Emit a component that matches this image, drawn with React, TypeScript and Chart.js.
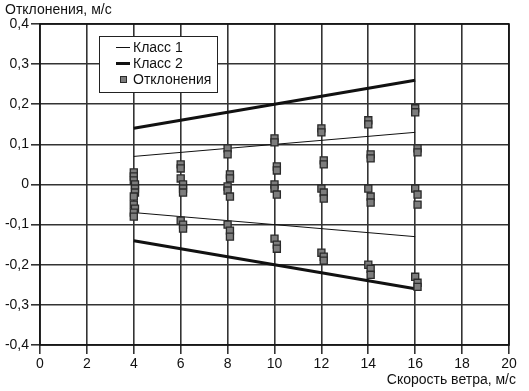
import React, { useEffect, useRef } from "react";
import { Chart, registerables } from "chart.js";

Chart.register(...registerables);

const xTicksMin = 0;
const xTicksMax = 20;
const yTicksMin = -0.4;
const yTicksMax = 0.4;

const class1Upper = [{ x: 4, y: 0.07 }, { x: 16, y: 0.13 }];
const class1Lower = [{ x: 4, y: -0.07 }, { x: 16, y: -0.13 }];
const class2Upper = [{ x: 4, y: 0.14 }, { x: 16, y: 0.26 }];
const class2Lower = [{ x: 4, y: -0.14 }, { x: 16, y: -0.26 }];

const devX4 = [4, 4, 4, 4.05, 4.05, 4.05, 4, 4, 4.05, 4, 4];
const devY4 = [0.03, 0.02, 0.01, 0.0, -0.01, -0.02, -0.03, -0.05, -0.06, -0.07, -0.08];
const devX6 = [6, 6, 6, 6.1, 6.1, 6.1, 6, 6.1, 6.1];
const devY6 = [0.05, 0.04, 0.015, 0.0, -0.01, -0.02, -0.09, -0.1, -0.11];
const devX8 = [8, 8, 8.1, 8.1, 8, 8, 8.1, 8, 8.1, 8.1];
const devY8 = [0.09, 0.075, 0.025, 0.015, -0.005, -0.015, -0.03, -0.1, -0.115, -0.13];
const devX10 = [10, 10, 10.1, 10.1, 10, 10, 10.1, 10, 10.1, 10.1];
const devY10 = [0.115, 0.105, 0.045, 0.035, 0.0, -0.01, -0.025, -0.135, -0.15, -0.16];
const devX12 = [12, 12, 12.1, 12.1, 12, 12.1, 12.1, 12, 12.1, 12.1];
const devY12 = [0.14, 0.13, 0.06, 0.05, -0.01, -0.02, -0.035, -0.17, -0.18, -0.19];
const devX14 = [14, 14, 14.1, 14.1, 14, 14.1, 14.1, 14, 14.1, 14.1];
const devY14 = [0.16, 0.15, 0.075, 0.065, -0.01, -0.03, -0.045, -0.2, -0.21, -0.225];
const devX16 = [16, 16, 16.1, 16.1, 16, 16.1, 16.1, 16, 16.1, 16.1];
const devY16 = [0.19, 0.18, 0.09, 0.08, -0.01, -0.025, -0.05, -0.23, -0.245, -0.255];

const legendLabels = ["Класс 1", "Класс 2", "Отклонения"];
const yTitle = "Отклонения, м/с";
const xTitle = "Скорость ветра, м/с";

const FONT = "'Liberation Sans', Arial, sans-serif";
const GRID = "#333";

function zip(xs: number[], ys: number[]) {
  return xs.map((x, i) => ({ x, y: ys[i] }));
}

const deviations = [
  ...zip(devX4, devY4),
  ...zip(devX6, devY6),
  ...zip(devX8, devY8),
  ...zip(devX10, devY10),
  ...zip(devX12, devY12),
  ...zip(devX14, devY14),
  ...zip(devX16, devY16),
];

export default function App() {
  const ref = useRef<HTMLCanvasElement>(null);

  useEffect(() => {
    document.body.style.margin = "0";
    const canvas = ref.current!;
    const decor = {
      id: "decor",
      afterDraw(chart: any) {
        const ctx = chart.ctx;
        const area = chart.chartArea;
        ctx.save();
        ctx.strokeStyle = "#111";
        ctx.lineWidth = 1.6;
        ctx.strokeRect(area.left, area.top, area.right - area.left, area.bottom - area.top);
        ctx.fillStyle = "#111";
        ctx.font = `14px ${FONT}`;
        ctx.textBaseline = "middle";
        ctx.textAlign = "left";
        ctx.fillText(yTitle, 5, 10);
        ctx.textAlign = "right";
        ctx.fillText(xTitle, 516, 380);
        // legend
        const bx = 99, by = 36, bw = 118, bh = 56;
        ctx.fillStyle = "#fff";
        ctx.fillRect(bx, by, bw, bh);
        ctx.strokeStyle = "#222";
        ctx.lineWidth = 1;
        ctx.strokeRect(bx + 0.5, by + 0.5, bw, bh);
        const rows = [47.5, 63.5, 79.5];
        ctx.strokeStyle = "#111";
        ctx.lineWidth = 1;
        ctx.beginPath();
        ctx.moveTo(116, rows[0]);
        ctx.lineTo(130, rows[0]);
        ctx.stroke();
        ctx.lineWidth = 3;
        ctx.beginPath();
        ctx.moveTo(116, rows[1]);
        ctx.lineTo(130, rows[1]);
        ctx.stroke();
        ctx.fillStyle = "#7d7d7d";
        ctx.strokeStyle = "#2a2a2a";
        ctx.lineWidth = 1;
        ctx.fillRect(120.5, rows[2] - 3, 6, 6);
        ctx.strokeRect(120.5, rows[2] - 3, 6, 6);
        ctx.fillStyle = "#111";
        ctx.textAlign = "left";
        ctx.font = `14px ${FONT}`;
        legendLabels.forEach((t, i) => ctx.fillText(t, 133, rows[i] + 1));
        ctx.restore();
      },
    };

    const chart = new Chart(canvas, {
      type: "scatter",
      data: {
        datasets: [
          {
            label: legendLabels[2],
            data: deviations,
            pointStyle: "rect",
            pointRadius: 5,
            backgroundColor: "#7d7d7d",
            borderColor: "#2a2a2a",
            borderWidth: 1.3,
            order: 0,
          },
          { type: "line", label: legendLabels[0], data: class1Upper, borderColor: "#111", borderWidth: 1, pointRadius: 0, order: 1 },
          { type: "line", label: legendLabels[0], data: class1Lower, borderColor: "#111", borderWidth: 1, pointRadius: 0, order: 1 },
          { type: "line", label: legendLabels[1], data: class2Upper, borderColor: "#111", borderWidth: 3, pointRadius: 0, order: 1 },
          { type: "line", label: legendLabels[1], data: class2Lower, borderColor: "#111", borderWidth: 3, pointRadius: 0, order: 1 },
        ] as any,
      },
      options: {
        animation: false,
        responsive: false,
        maintainAspectRatio: false,
        layout: { padding: { top: 24, right: 20, left: 0, bottom: 0 } },
        plugins: { legend: { display: false }, tooltip: { enabled: false } },
        scales: {
          x: {
            type: "linear",
            min: xTicksMin,
            max: xTicksMax,
            grid: { color: GRID, lineWidth: 1.6, tickLength: 9, tickColor: GRID },
            border: { display: false },
            ticks: { stepSize: 2, color: "#111", font: { size: 14, family: FONT }, padding: 2 },
            afterFit: (s: any) => { s.height = 46; },
          },
          y: {
            type: "linear",
            min: yTicksMin,
            max: yTicksMax,
            grid: { color: GRID, lineWidth: 1.6, tickLength: 9, tickColor: GRID },
            border: { display: false },
            ticks: {
              stepSize: 0.1,
              color: "#111",
              font: { size: 14, family: FONT },
              padding: 2,
              callback: (v: any) => {
                const n = Math.round(Number(v) * 10) / 10;
                return n === 0 ? "0" : n.toFixed(1).replace(".", ",");
              },
            },
            afterFit: (s: any) => { s.width = 40; },
          },
        },
      },
      plugins: [decor],
    });
    return () => chart.destroy();
  }, []);

  return (
    <div style={{ width: 529, height: 391 }}>
      <canvas ref={ref} width={529} height={391} style={{ display: "block" }} />
    </div>
  );
}
